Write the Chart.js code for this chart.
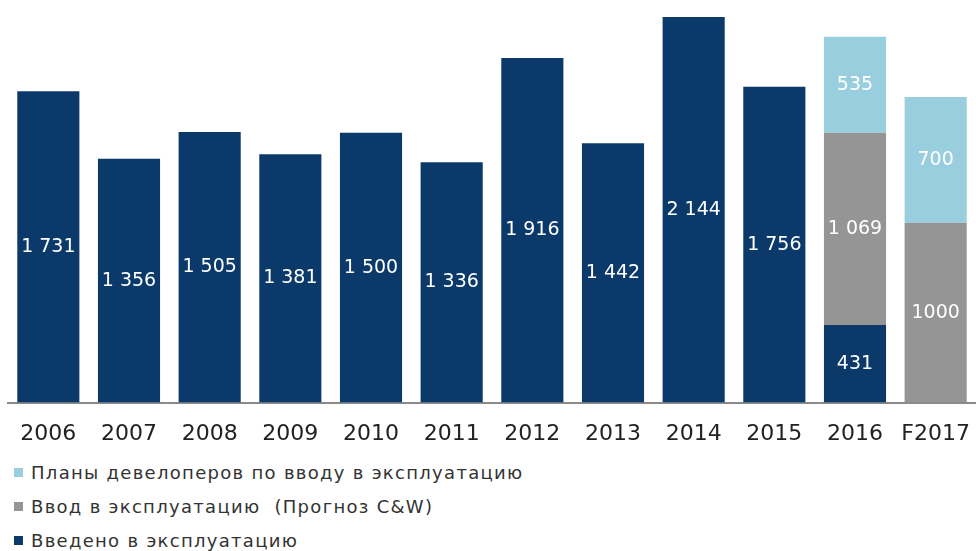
<!DOCTYPE html>
<html lang="ru">
<head>
    <meta charset="UTF-8">
    <title>Ввод в эксплуатацию</title>
    <script src="https://cdn.jsdelivr.net/npm/chart.js"></script>
    <style>
        body { margin: 0; background: #fff; font-family: "DejaVu Sans", sans-serif; }
        .wrap { width: 976px; height: 551px; position: relative; overflow: hidden; }
        #chart { display: block; }
        .legend { position: absolute; left: 14px; top: 456px; }
        .legend div { height: 34px; line-height: 34px; font-size: 18px; color: #333; white-space: nowrap; letter-spacing: 1.3px; }
        .legend span { display: inline-block; width: 9px; height: 9px; margin-right: 8px; vertical-align: 2px; }
    </style>
</head>
<body>
<div class="wrap">
    <canvas id="chart" width="976" height="452"></canvas>
    <div class="legend" id="legend"></div>
</div>
<script>
// годы
const years = ['2006', '2007', '2008', '2009', '2010', '2011', '2012', '2013', '2014', '2015', '2016', 'F2017'];

// тыс. кв. м
const built    = [1731, 1356, 1505, 1381, 1500, 1336, 1916, 1442, 2144, 1756, 431, null];
const forecast = [null, null, null, null, null, null, null, null, null, null, 1069, 1000];
const plans    = [null, null, null, null, null, null, null, null, null, null, 535, 700];

// подписи без разделителя разрядов
const plainLabels = ['F2017'];

const colors = {
    built: '#0b3a6a',
    forecast: '#959595',
    plans: '#98cedd'
};

function fmt(v, year) {
    if (plainLabels.includes(year)) return String(v);
    return String(v).replace(/\B(?=(\d{3})+(?!\d))/g, ' ');
}

// подписи значений по центру сегментов
const valueLabels = {
    id: 'valueLabels',
    afterDatasetsDraw(chart) {
        const ctx = chart.ctx;
        ctx.save();
        ctx.font = '19px "DejaVu Sans", sans-serif';
        ctx.fillStyle = '#ffffff';
        ctx.textAlign = 'center';
        ctx.textBaseline = 'middle';
        chart.data.datasets.forEach((ds, i) => {
            const meta = chart.getDatasetMeta(i);
            meta.data.forEach((bar, j) => {
                const v = ds.data[j];
                if (v == null) return;
                ctx.fillText(fmt(v, years[j]), bar.x, (bar.y + bar.base) / 2);
            });
        });
        ctx.restore();
    }
};

const datasets = [
    { label: 'Введено в эксплуатацию', data: built, backgroundColor: colors.built },
    { label: 'Ввод в эксплуатацию  (Прогноз C&W)', data: forecast, backgroundColor: colors.forecast },
    { label: 'Планы девелоперов по вводу в эксплуатацию', data: plans, backgroundColor: colors.plans }
];

new Chart(document.getElementById('chart'), {
    type: 'bar',
    data: { labels: years, datasets: datasets },
    options: {
        responsive: false,
        animation: false,
        datasets: { bar: { barPercentage: 0.77, categoryPercentage: 1 } },
        layout: { padding: { top: 7, left: 8, right: 0, bottom: 2 } },
        scales: {
            x: {
                stacked: true,
                grid: { display: true, drawOnChartArea: false, tickLength: 15, tickColor: 'transparent' },
                border: { display: true, color: '#8a8a8a', width: 2 },
                ticks: {
                    color: '#222',
                    padding: 3,
                    font: { size: 22, family: '"DejaVu Sans", sans-serif' }
                }
            },
            y: { stacked: true, display: false, min: 0, max: 2200 }
        },
        plugins: { legend: { display: false }, tooltip: { enabled: false } }
    },
    plugins: [valueLabels]
});

// легенда: сверху вниз в обратном порядке
const legend = document.getElementById('legend');
datasets.slice().reverse().forEach(ds => {
    const row = document.createElement('div');
    const box = document.createElement('span');
    box.style.background = ds.backgroundColor;
    row.appendChild(box);
    row.appendChild(document.createTextNode(ds.label.replace('  ', '\u00a0 ')));
    legend.appendChild(row);
});
</script>
</body>
</html>
